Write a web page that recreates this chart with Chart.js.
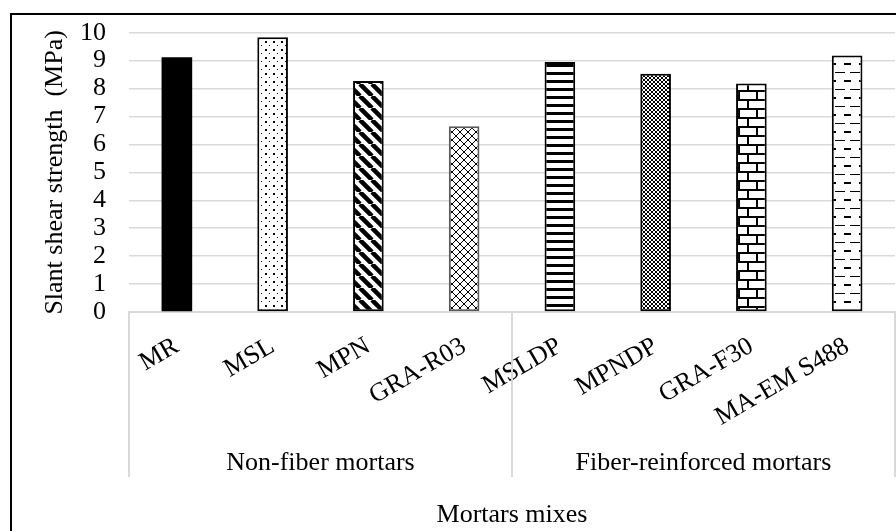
<!DOCTYPE html>
<html>
<head>
<meta charset="utf-8">
<script src="https://cdn.jsdelivr.net/npm/chart.js@4"></script>
<style>
	html, body { margin: 0; padding: 0; background: #fff; }
	#wrap { position: relative; width: 896px; height: 531px; }
</style>
</head>
<body>
<div id="wrap"><canvas id="myChart" width="896" height="531"></canvas></div>
<script>
// data
var mixes = ['MR', 'MSL', 'MPN', 'GRA-R03', 'MSLDP', 'MPNDP', 'GRA-F30', 'MA-EM S488'];
var strength = [9.12, 9.84, 8.27, 6.65, 8.95, 8.53, 8.18, 9.18];
var groups = ['Non-fiber mortars', 'Fiber-reinforced mortars'];
var groupSizes = [4, 4];
var yMin = 0, yMax = 10, yStep = 1;

var FONT = '"Liberation Serif", "Times New Roman", serif';

// small tiles used as fill patterns
function makePattern(w, h, draw) {
	var c = document.createElement('canvas');
	c.width = w; c.height = h;
	var g = c.getContext('2d');
	g.fillStyle = '#fff';
	g.fillRect(0, 0, w, h);
	g.fillStyle = '#000';
	g.strokeStyle = '#000';
	draw(g, w, h);
	return document.createElement('canvas').getContext('2d').createPattern(c, 'repeat');
}

var dots = makePattern(8, 8, function (g) {
	g.fillRect(1, 1, 2, 2);
	g.fillRect(5, 5, 1, 1);
});
var wideDiag = makePattern(12, 12, function (g) {
	g.lineWidth = 4.5;
	[-12, 0, 12].forEach(function (k) {
		g.beginPath(); g.moveTo(k, 0); g.lineTo(k + 12, 12); g.stroke();
	});
});
var crossHatch = makePattern(8, 8, function (g) {
	g.lineWidth = 1;
	[-8, 0, 8].forEach(function (k) {
		g.beginPath(); g.moveTo(k, 0); g.lineTo(k + 8, 8); g.stroke();
		g.beginPath(); g.moveTo(k + 8, 0); g.lineTo(k, 8); g.stroke();
	});
});
var hStripes = makePattern(4, 8, function (g) {
	g.fillRect(0, 0, 4, 3);
});
var smallGrid = makePattern(4, 4, function (g) {
	for (var i = 0; i < 4; i++) {
		g.fillRect(i, i, 1, 1);
		g.fillRect(3 - i, i, 1, 1);
	}
});
var brick = makePattern(18, 18, function (g) {
	g.fillRect(0, 0, 18, 2);
	g.fillRect(0, 9, 18, 2);
	g.fillRect(0, 0, 2, 9);
	g.fillRect(9, 9, 2, 9);
});
var dashes = makePattern(15, 17, function (g) {
	g.fillRect(0, 4, 5, 1);
	g.fillRect(10, 4, 5, 1);
	g.fillRect(4, 12, 7, 2);
});

var fills = ['#000', dots, wideDiag, crossHatch, hStripes, smallGrid, brick, dashes];
var edges = ['#000', '#000', '#000', '#595959', '#000', '#000', '#000', '#000'];
var edgeWidths = [0, 2, 2, 2, 2, 2, 2, 2];

var groupPlugin = {
	id: 'groupRows',
	afterDraw: function (chart) {
		var ctx = chart.ctx, x = chart.scales.x, area = chart.chartArea;
		var half = (x.getPixelForValue(1) - x.getPixelForValue(0)) / 2;
		var rowBottom = area.bottom + 165;
		ctx.save();
		ctx.strokeStyle = '#d9d9d9';
		ctx.lineWidth = 2;
		var lines = [x.left];
		var start = 0;
		groupSizes.forEach(function (n) {
			start += n;
			lines.push(start >= mixes.length ? x.right : x.getPixelForValue(start - 1) + half);
		});
		lines.forEach(function (px) {
			ctx.beginPath(); ctx.moveTo(px, area.bottom); ctx.lineTo(px, rowBottom); ctx.stroke();
		});
		ctx.fillStyle = '#000';
		ctx.font = '26px ' + FONT;
		ctx.textAlign = 'center';
		ctx.textBaseline = 'middle';
		groups.forEach(function (name, i) {
			ctx.fillText(name, (lines[i] + lines[i + 1]) / 2, area.bottom + 151);
		});
		// outer frame
		ctx.strokeStyle = '#000';
		ctx.lineWidth = 2;
		ctx.strokeRect(11, 14, 1000, 1000);
		ctx.restore();
	}
};

var ctx = document.getElementById('myChart');
var myChart = new Chart(ctx, {
	type: 'bar',
	data: {
		labels: mixes,
		datasets: [{
			label: 'Slant shear strength',
			data: strength,
			backgroundColor: fills,
			borderColor: edges,
			borderWidth: edgeWidths,
			borderSkipped: false,
			barPercentage: 0.32,
			categoryPercentage: 1
		}]
	},
	options: {
		responsive: false,
		animation: false,
		layout: { padding: { top: 32.7, right: 1, bottom: 0, left: 0 } },
		plugins: { legend: { display: false }, tooltip: { enabled: false } },
		scales: {
			x: {
				afterFit: function (s) { s.height = 531 - 312; },
				grid: { display: false, drawTicks: false },
				border: { display: true, color: '#d9d9d9', width: 2 },
				ticks: {
					color: '#000',
					font: { family: FONT, size: 26 },
					minRotation: 30,
					maxRotation: 30,
					autoSkip: false,
					padding: 19
				},
				title: {
					display: true,
					text: 'Mortars mixes',
					color: '#000',
					font: { family: FONT, size: 26 },
					padding: { top: 0, bottom: 0 }
				}
			},
			y: {
				min: yMin,
				max: yMax,
				afterFit: function (s) {
					s.width = 129;
					s.paddingTop = 0;
					s.paddingBottom = 0;
				},
				grid: { color: '#d9d9d9', lineWidth: 1.5, drawTicks: false },
				border: { display: false },
				ticks: {
					stepSize: yStep,
					autoSkip: false,
					color: '#000',
					font: { family: FONT, size: 26 },
					padding: 23
				},
				title: {
					display: true,
					text: 'Slant shear strength  (MPa)',
					color: '#000',
					font: { family: FONT, size: 26 },
					padding: { top: 40, bottom: 0 }
				}
			}
		}
	},
	plugins: [groupPlugin]
});
</script>
</body>
</html>
